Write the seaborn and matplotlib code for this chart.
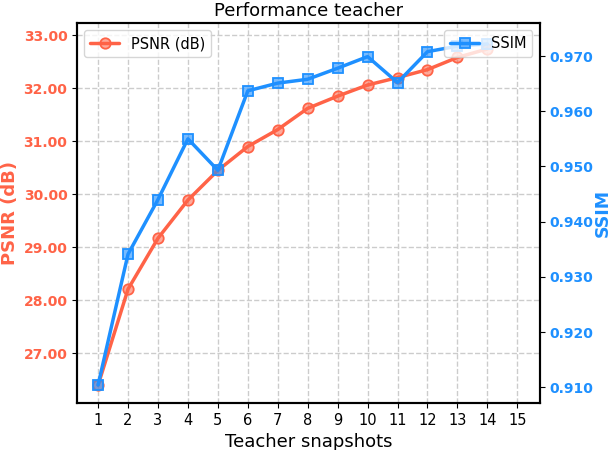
import numpy as np
import pandas as pd
import seaborn as sns
import matplotlib.pyplot as plt

snapshots = list(range(1, 15))
psnr = [26.40, 28.21, 29.17, 29.89, 30.45, 30.90, 31.22, 31.62, 31.85, 32.06,
        32.20, 32.35, 32.58, 32.74]
ssim = [0.9104, 0.9341, 0.9440, 0.9550, 0.9493, 0.9637, 0.9651, 0.9658, 0.9678,
        0.9699, 0.9652, 0.9708, 0.9718, 0.9722]
xticks = list(range(1, 16))
psnr_ticks = [27, 28, 29, 30, 31, 32, 33]
ssim_ticks = [0.91, 0.92, 0.93, 0.94, 0.95, 0.96, 0.97]

df = pd.DataFrame({"snapshot": snapshots, "psnr": psnr, "ssim": ssim})

sns.set_style("ticks")
plt.rcParams["font.family"] = ["DejaVu Sans"]
plt.rcParams["text.color"] = "black"
plt.rcParams["axes.labelcolor"] = "black"
plt.rcParams["xtick.color"] = "black"
plt.rcParams["ytick.color"] = "black"

c_psnr = "#ff6347"
c_ssim = "#1e90ff"

fig, ax1 = plt.subplots(figsize=(6.12, 4.5), dpi=100)
ax2 = ax1.twinx()

sns.lineplot(data=df, x="snapshot", y="psnr", ax=ax1, color=c_psnr, marker="o",
             markersize=7.5, linewidth=2.5, markerfacecolor=(1.0, 0.39, 0.28, 0.55),
             markeredgecolor=c_psnr, markeredgewidth=1.3, label="PSNR (dB)")
sns.lineplot(data=df, x="snapshot", y="ssim", ax=ax2, color=c_ssim, marker="s",
             markersize=7.5, linewidth=2.5, markerfacecolor=(0.12, 0.56, 1.0, 0.6),
             markeredgecolor=c_ssim, markeredgewidth=1.3, label="SSIM")

ax1.set_xlim(0.3, 15.75)
ax1.set_xticks(xticks)
ax1.set_ylim(26.06, 33.23)
ax1.set_yticks(psnr_ticks)
ax1.set_yticklabels([f"{v:.2f}" for v in psnr_ticks])
ax2.set_ylim(0.9071, 0.976)
ax2.set_yticks(ssim_ticks)
ax2.set_yticklabels([f"{v:.3f}" for v in ssim_ticks])

ax1.grid(True, linestyle="--", color="#cccccc", linewidth=1)
ax1.set_xlabel("Teacher snapshots", fontsize=13)
ax1.set_ylabel("PSNR (dB)", color=c_psnr, fontsize=13, fontweight="bold", labelpad=3)
ax2.set_ylabel("SSIM", color=c_ssim, fontsize=12.5, fontweight="bold", labelpad=0)
ax1.tick_params(axis="x", labelsize=10.5)
ax1.tick_params(axis="y", labelcolor=c_psnr, labelsize=10)
ax2.tick_params(axis="y", labelcolor=c_ssim, labelsize=10)
for lab in ax1.get_yticklabels():
    lab.set_fontweight("bold")
for lab in ax2.get_yticklabels():
    lab.set_fontweight("bold")
for sp in list(ax1.spines.values()) + list(ax2.spines.values()):
    sp.set_color("black")
    sp.set_linewidth(1.5)

ax1.set_title("Performance teacher", fontsize=13, pad=5)
ax1.legend(loc="upper left", fontsize=10.5)
ax2.legend(loc="upper right", fontsize=10.5)

fig.subplots_adjust(left=0.126, right=0.882, top=0.949, bottom=0.104)
fig.savefig("out.png")
plt.close(fig)
